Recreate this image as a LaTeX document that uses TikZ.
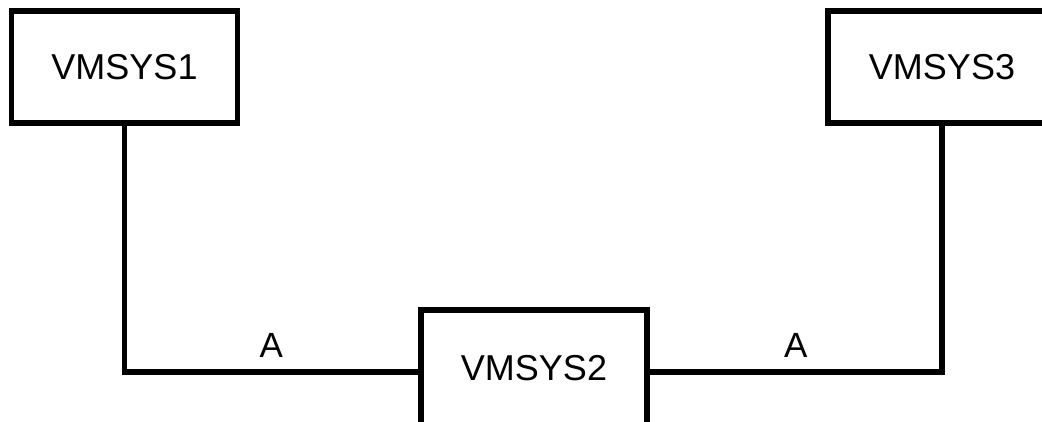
\documentclass[tikz,border=0pt]{standalone}
\usepackage{fontspec}
\setmainfont{Liberation Sans}
\begin{document}
\begin{tikzpicture}[x=1pt,y=-1pt,
  sysbox/.style={draw, line width=5.5pt, minimum width=226pt, minimum height=112pt,
    inner sep=0pt, font=\fontsize{36}{40}\selectfont},
  link/.style={line width=5.5pt, line join=miter},
  lbl/.style={inner sep=0pt, anchor=south, yshift=12pt, font=\fontsize{35}{40}\selectfont}]
\useasboundingbox (0,0) rectangle (1042,421);
\clip (0,0) rectangle (1042,421);
\fill[white] (0,0) rectangle (1042,421);
\node[sysbox] (b1) at (124.5,67) {VMSYS1};
\node[sysbox, minimum width=228pt] (b3) at (942,67) {VMSYS3};
\node[sysbox, minimum height=120pt] (b2) at (534,370) {\raisebox{4pt}{VMSYS2}};
\coordinate (c1) at (124.5,372);
\coordinate (c3) at (942,372);
\draw[link] (b1.south) -- (c1) -- node[lbl]{A} (b2.west |- c1);
\draw[link] (b3.south) -- (c3) -- node[lbl]{A} (b2.east |- c3);
\end{tikzpicture}
\end{document}
